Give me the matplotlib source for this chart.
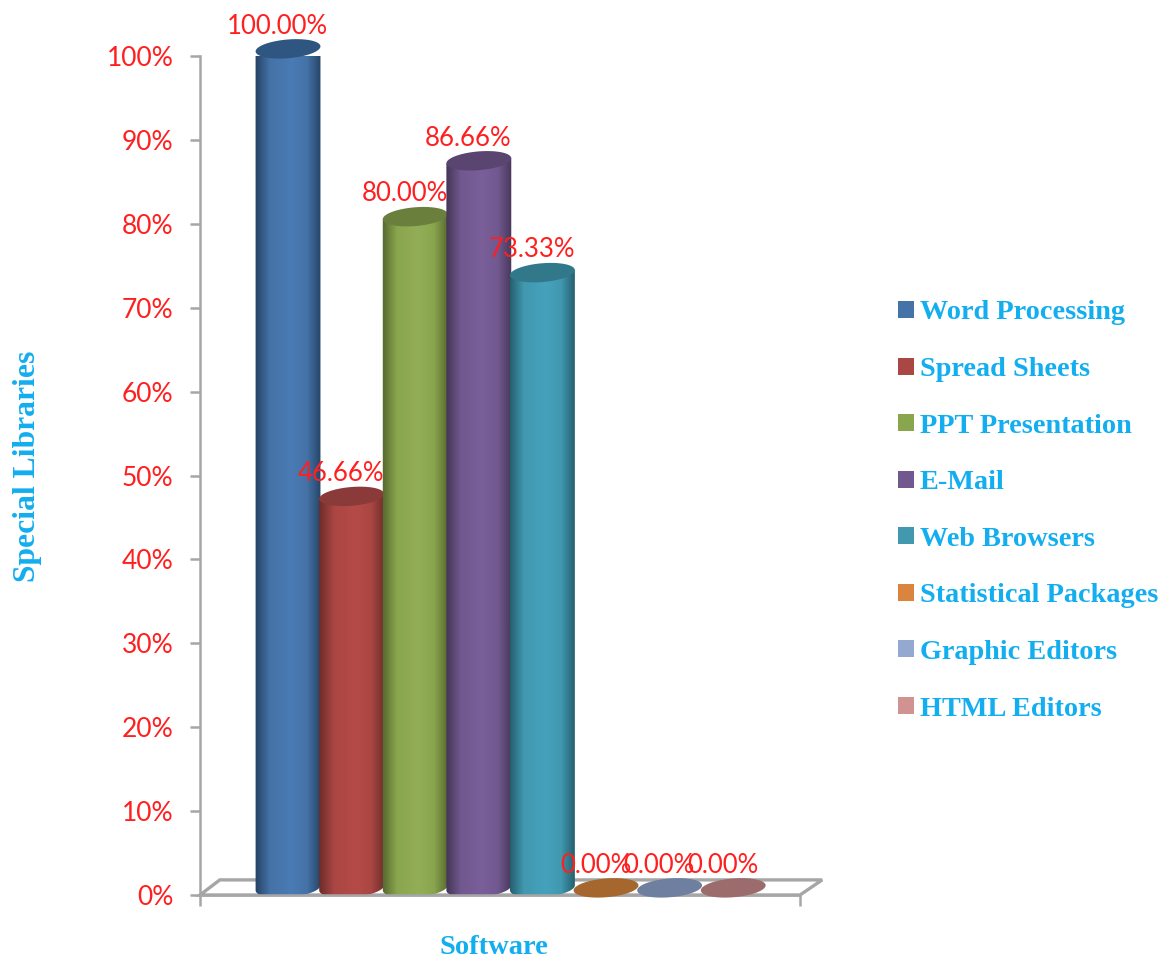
import numpy as np
import matplotlib
matplotlib.use("Agg")
import matplotlib.pyplot as plt
from matplotlib.colors import LinearSegmentedColormap
from matplotlib.patches import Patch, Polygon

software = ["Word Processing", "Spread Sheets", "PPT Presentation", "E-Mail",
            "Web Browsers", "Statistical Packages", "Graphic Editors", "HTML Editors"]
values = [100.00, 46.66, 80.00, 86.66, 73.33, 0.00, 0.00, 0.00]
labels = ["100.00%", "46.66%", "80.00%", "86.66%", "73.33%", "0.00%", "0.00%", "0.00%"]
legend_colors = ["#4572A7", "#AA4643", "#89A54E", "#71588F", "#4198AF", "#DB843D", "#93A9CF", "#D19392"]
light_colors = ["#4A7BB5", "#B54B48", "#93AE57", "#7A5F9A", "#45A2BC", "#DB843D", "#93A9CF", "#D19392"]
top_colors = ["#2F5680", "#8A3A38", "#6B7F3C", "#5A4570", "#31788A", "#A5672E", "#6E7F9F", "#9C6B6C"]
edge_colors = ["#234263", "#6B2C2A", "#55672F", "#453556", "#235C6B", "#8A5525", "#5A6A88", "#825858"]
y_ticks = list(range(0, 101, 10))

BLUE = "#12AEEF"
RED = "#FF1F1F"
GREY = "#A6A6A6"
A, B, TILT = 0.51, 1.12, 0.3


def ellipse_points(x, y):
    t = np.linspace(0, 2 * np.pi, 80)
    return x + A * np.cos(t), y + B * np.sin(t) + TILT * np.cos(t)


fig = plt.figure(figsize=(11.59, 9.59), dpi=100)
ax = fig.add_axes([200 / 1159, 64 / 959, 600 / 1159, 839 / 959])
ax.patch.set_alpha(0)

# back wall / floor of the 3d box
floor = Polygon([(0, 0), (1, 0), (1.037, 0.018), (0.033, 0.018)], closed=True, transform=ax.transAxes,
                facecolor="white", edgecolor=GREY, linewidth=2.4, clip_on=False, zorder=1)
ax.add_patch(floor)

# fake 3d cylinders, one gradient per bar
lift = 0.85
for i, v in enumerate(values):
    ex, ey = ellipse_points(i, v + lift)
    if v > 0:
        bx, by = ellipse_points(i, lift)
        keep = np.sin(np.linspace(0, 2 * np.pi, 80)) <= 0
        order = np.argsort(bx[keep])
        xs = np.r_[i - A, bx[keep][order], i + A]
        ys = np.r_[v + lift - TILT, by[keep][order], v + lift + TILT]
        cmap = LinearSegmentedColormap.from_list(
            "c", [(0, edge_colors[i]), (0.22, legend_colors[i]), (0.55, light_colors[i]),
                  (0.78, legend_colors[i]), (1, edge_colors[i])])
        img = ax.imshow(np.linspace(0, 1, 128).reshape(1, -1), cmap=cmap, aspect="auto",
                        extent=(i - 0.52, i + 0.52, -1, v + 2), zorder=2 + i * 0.1)
        clip = Polygon(np.c_[xs, ys], closed=True, transform=ax.transData)
        img.set_clip_path(clip)
    ax.fill(ex, ey, color=top_colors[i], lw=0, zorder=2.05 + i * 0.1, clip_on=False)

for i, (v, s) in enumerate(zip(values, labels)):
    ax.annotate(s, (i, v), xytext=(-7.5, 21.5), textcoords="offset points", ha="center", va="center",
                color=RED, fontsize=18.5, family="Lato", zorder=5, annotation_clip=False)

ax.set_xlim(-1.384, 8.05)
ax.set_ylim(0, 100)
ax.set_yticks(y_ticks)
ax.set_yticklabels([f"{t}%" for t in y_ticks], color=RED, fontsize=19, family="Lato")
ax.set_xticks([-1.384, 8.05])
ax.set_xticklabels([])
ax.tick_params(axis="y", length=7, width=1.8, color=GREY, pad=12)
ax.tick_params(axis="x", length=8, width=1.8, color=GREY)
for side in ["top", "right"]:
    ax.spines[side].set_visible(False)
for side in ["left", "bottom"]:
    ax.spines[side].set_color(GREY)
    ax.spines[side].set_linewidth(1.8)

ax.set_xlabel("Software", color=BLUE, fontsize=20.5, family="Liberation Serif", fontweight="bold", va="center")
ax.xaxis.set_label_coords(0.49, -0.062)
ax.set_ylabel("Special Libraries", color=BLUE, fontsize=22.8, family="Liberation Serif", fontweight="bold", va="center")
ax.yaxis.set_label_coords(-0.288, 0.511)

handles = [Patch(facecolor=c, edgecolor="none", label=s) for c, s in zip(legend_colors, software)]
fig.legend(handles=handles, loc="center left", bbox_to_anchor=(873 / 1159, 1 - 511 / 959), frameon=False,
           labelcolor=BLUE, prop={"family": "Liberation Serif", "weight": "bold", "size": 20.3},
           handlelength=0.55, handleheight=0.55, handletextpad=0.2, labelspacing=1.12)

fig.savefig("out.png", dpi=100)
